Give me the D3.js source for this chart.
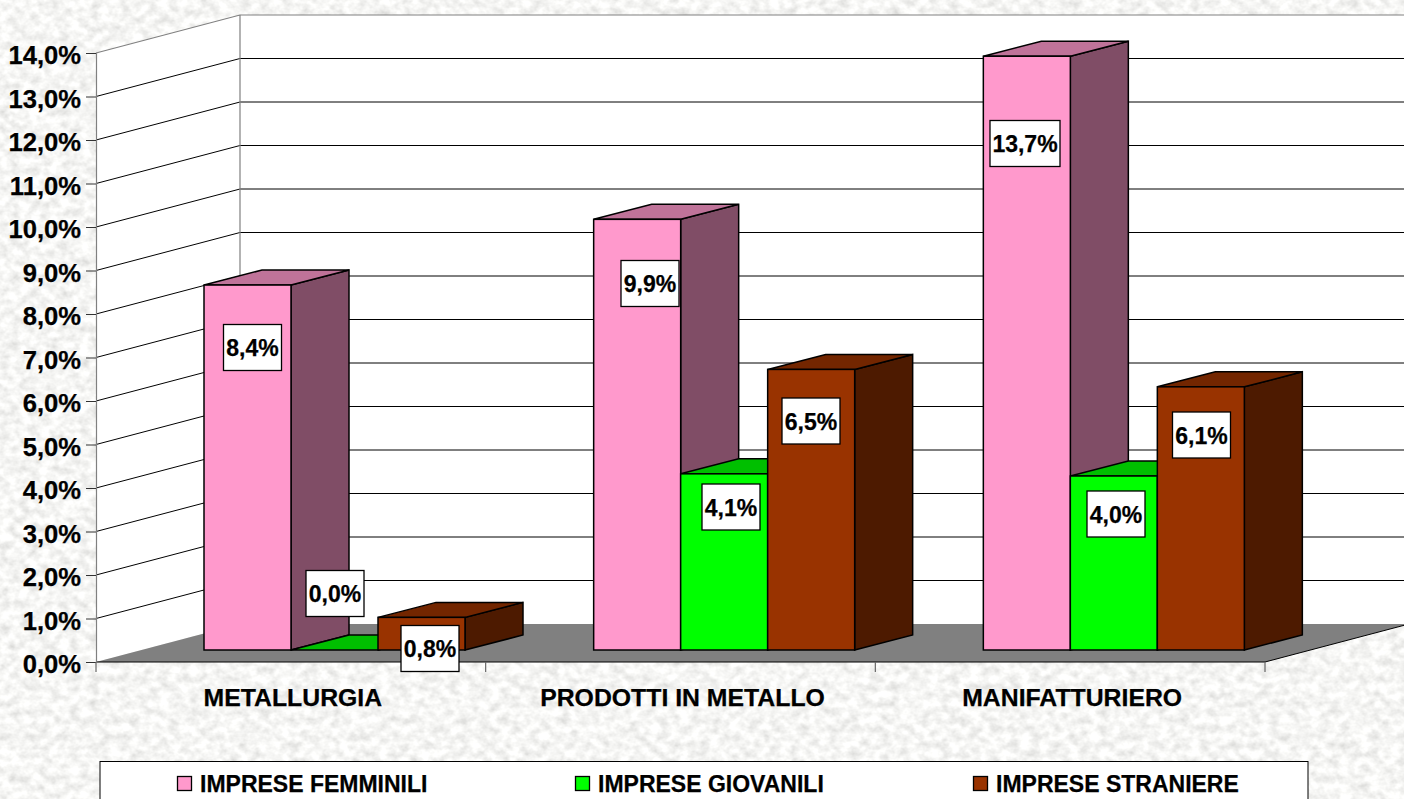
<!DOCTYPE html>
<html><head><meta charset="utf-8">
<script src="https://cdn.jsdelivr.net/npm/d3@7/dist/d3.min.js"></script>
<style>
html,body{margin:0;padding:0;background:#ecece8;overflow:hidden}
svg{display:block}
text{font-family:"Liberation Sans",Arial,sans-serif;font-weight:700;fill:#000;stroke:#000;stroke-width:.25px}
</style></head><body>
<script>
// ---- data ----
const categories = ["METALLURGIA", "PRODOTTI IN METALLO", "MANIFATTURIERO"];
const seriesNames = ["IMPRESE FEMMINILI", "IMPRESE GIOVANILI", "IMPRESE STRANIERE"];
const femminili = [8.39, 9.9, 13.65];
const giovanili = [0.0, 4.05, 4.0];
const straniere = [0.75, 6.45, 6.05];
const yTicks = d3.range(0, 15);

// ---- styles / layout ----
const W = 1404, H = 799;
const seriesValues = [femminili, giovanili, straniere];
const faces = [
  {front:"#ff99cc", top:"#bf7399", side:"#804d66"},
  {front:"#00ff00", top:"#00bf00", side:"#008000"},
  {front:"#993300", top:"#732600", side:"#4d1a00"}
];
// hand-placed label box centres [series][category], as the original chart has them
const labelCx = [[252.5,650,1025],[335,731,1116],[430,811,1201.5]];
const labelCy = [[347.5,283.5,143.5],[593.5,507,514],[648.5,421,435]];

const svg = d3.select("body").append("svg").attr("width",W).attr("height",H);
const defs = svg.append("defs");
const f = defs.append("filter").attr("id","stone").attr("x",0).attr("y",0).attr("width","100%").attr("height","100%");
f.append("feTurbulence").attr("type","fractalNoise").attr("baseFrequency","0.10 0.12").attr("numOctaves",3).attr("seed",7);
f.append("feColorMatrix").attr("type","matrix")
 .attr("values","0.5 0 0 0 0.67  0.5 0 0 0 0.67  0.5 0 0 0 0.655  0 0 0 0 1");
svg.append("rect").attr("width",W).attr("height",H).attr("filter","url(#stone)");

const y = d3.scaleLinear().domain([0,14]).range([662,53]);
const x = d3.scaleBand().domain(categories).range([96,1265]);
const barGroup = d3.scaleBand().domain(d3.range(3)).range([0,261]);
const depthX = 144, depthY = -38;
const barDX = 58, barDY = -15, barInset = 108, barLift = 12;
const poly = p => p.map(d=>d.join(",")).join(" ");

// walls and floor
const y0=y(0), y14=y(14);
svg.append("polygon").attr("fill","#fff").attr("points",poly([[96,y0],[96,y14],[96+depthX,y14+depthY],[96+depthX,y0+depthY]]));
svg.append("rect").attr("fill","#fff").attr("x",96+depthX).attr("y",y14+depthY).attr("width",W-96-depthX).attr("height",y0-y14);
svg.append("g").selectAll("path").data(yTicks.slice(1,-1)).join("path")
  .attr("fill","none").attr("stroke","#000").attr("stroke-width",1)
  .attr("d",v=>`M96,${y(v)}L${96+depthX},${y(v)+depthY}H${W}`);
svg.append("path").attr("fill","none").attr("stroke","#808080").attr("stroke-width",1.2)
  .attr("d",`M96,${y14}L${96+depthX},${y14+depthY}H${W}M${96+depthX},${y14+depthY}V${y0+depthY}`);
svg.append("polygon").attr("fill","#808080")
  .attr("points",poly([[96,y0],[1265,y0],[1265+depthX,y0+depthY],[96+depthX,y0+depthY]]));
svg.append("path").attr("fill","none").attr("stroke","#000").attr("stroke-width",1)
  .attr("d",`M96,${y0}H1265L${1265+depthX},${y0+depthY}`);

// y axis
const yAxis = d3.axisLeft(y).tickValues(yTicks).tickSize(10).tickPadding(5)
  .tickFormat(v=>d3.format(".1f")(v).replace(".",",")+"%");
const gy = svg.append("g").attr("transform","translate(96,0)").call(yAxis);
gy.select(".domain").attr("stroke","#808080").attr("stroke-width",1.2);
gy.selectAll(".tick line").attr("stroke","#333");
gy.selectAll("text").attr("font-size",25.6).attr("dy","0.42em").attr("fill","#000")
  .style("font-family",'"Liberation Sans",Arial,sans-serif').style("font-weight",700);

// x axis
svg.append("g").selectAll("line").data([...categories.map(c=>x(c)),1265]).join("line")
  .attr("x1",d=>d).attr("x2",d=>d).attr("y1",y0).attr("y2",y0+10).attr("stroke","#666").attr("stroke-width",1.2);
svg.append("g").selectAll("text").data(categories).join("text")
  .attr("x",c=>x(c)+x.bandwidth()/2+2).attr("y",706).attr("text-anchor","middle").attr("font-size",24.8)
  .text(c=>c);

// bars
const barX = (ci,si)=> x(categories[ci]) + barInset + barGroup(si);
const barY = v => y(v) - barLift;
const barsBase = barY(0);
categories.forEach((c,ci)=>{
  const g = svg.append("g");
  seriesNames.forEach((s,si)=>{
    const v = seriesValues[si][ci], x0 = barX(ci,si), bw = barGroup.bandwidth(), x1 = x0+bw, t = barY(v);
    const st = sel=>sel.attr("stroke","#000").attr("stroke-width",1.5).attr("stroke-linejoin","miter");
    g.append("polygon").call(st).attr("fill",faces[si].side)
      .attr("points",poly([[x1,t],[x1+barDX,t+barDY],[x1+barDX,barsBase+barDY],[x1,barsBase]]));
    g.append("polygon").call(st).attr("fill",faces[si].top)
      .attr("points",poly([[x0,t],[x0+barDX,t+barDY],[x1+barDX,t+barDY],[x1,t]]));
    if (v>0) g.append("rect").call(st).attr("fill",faces[si].front)
      .attr("x",x0).attr("y",t).attr("width",bw).attr("height",barsBase-t);
  });
});

// data labels
const fmt = v => (Math.round(v*10+1e-6)/10).toFixed(1).replace(".",",")+"%";
categories.forEach((c,ci)=>seriesNames.forEach((s,si)=>{
  const t = fmt(seriesValues[si][ci]);
  const w = t.length>4 ? 70 : 58, h = 46;
  const cx = labelCx[si][ci], cy = labelCy[si][ci];
  svg.append("rect").attr("x",cx-w/2).attr("y",cy-h/2).attr("width",w).attr("height",h)
    .attr("fill","#fff").attr("stroke","#000").attr("stroke-width",1.3);
  svg.append("text").attr("x",cx).attr("y",cy+8.5).attr("text-anchor","middle").attr("font-size",23).text(t);
}));

// legend
svg.append("rect").attr("x",100).attr("y",761.5).attr("width",1208).attr("height",60)
  .attr("fill","#fff").attr("stroke","#000").attr("stroke-width",1);
const legendX = d3.scalePoint().domain(seriesNames).range([177,973]);
seriesNames.forEach((s,si)=>{
  const lx = legendX(s);
  svg.append("rect").attr("x",lx+.5).attr("y",776.5).attr("width",14).attr("height",14)
    .attr("fill",faces[si].front).attr("stroke","#000").attr("stroke-width",1.3);
  svg.append("text").attr("x",lx+23).attr("y",792).attr("font-size",23).text(s);
});
</script>
</body></html>
